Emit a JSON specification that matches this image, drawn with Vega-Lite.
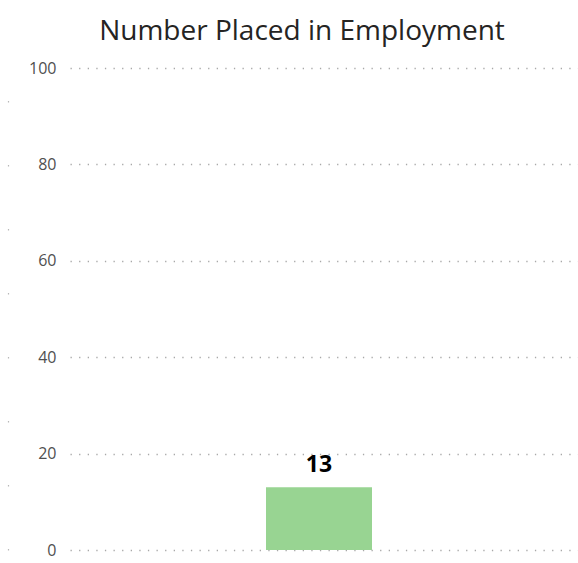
{
  "$schema": "https://vega.github.io/schema/vega-lite/v6.json",
  "width": 578,
  "height": 563,
  "autosize": {"type": "fit", "contains": "padding"},
  "padding": {"left": 8, "right": 0, "top": 18, "bottom": 5},
  "background": "white",
  "title": {
    "text": "Number Placed in Employment",
    "font": "Open Sans",
    "fontSize": 28,
    "fontWeight": "normal",
    "color": "#252423",
    "anchor": "middle",
    "dx": -22,
    "offset": 14
  },
  "data": {"values": [{"category": "Placed", "count": 13}]},
  "layer": [
    {
      "encoding": {
        "x": {"field": "category", "type": "nominal", "axis": null},
        "y": {
          "field": "count",
          "type": "quantitative",
          "scale": {"domain": [0, 100]},
          "axis": {
            "title": null,
            "orient": "left",
            "values": [0, 20, 40, 60, 80, 100],
            "domain": false,
            "ticks": false,
            "labelFont": "Open Sans",
            "labelFontSize": 16,
            "labelColor": "#505050",
            "labelPadding": 14,
            "gridColor": "#A8A8A8",
            "gridDash": [1.3, 7.3],
            "gridWidth": 1.6
          }
        }
      },
      "layer": [
        {"mark": {"type": "bar", "color": "#98D492", "width": 106, "xOffset": -5}},
        {
          "mark": {"type": "text", "dy": -22, "xOffset": -5, "font": "Open Sans", "fontSize": 23, "fontWeight": "bold", "color": "#000000"},
          "encoding": {"text": {"field": "count", "type": "quantitative"}}
        }
      ]
    },
    {
      "mark": {"type": "rule", "opacity": 0},
      "encoding": {
        "y": {
          "field": "count",
          "type": "quantitative",
          "scale": {"domain": [0, 100]},
          "axis": {
            "title": null,
            "orient": "left",
            "labels": false,
            "ticks": false,
            "grid": false,
            "domain": true,
            "domainColor": "#B8B8B8",
            "domainWidth": 1.2,
            "domainDash": [1.5, 62.5],
            "offset": 62
          }
        }
      }
    }
  ],
  "resolve": {"scale": {"y": "independent"}, "axis": {"y": "independent"}},
  "config": {"view": {"stroke": null}}
}
